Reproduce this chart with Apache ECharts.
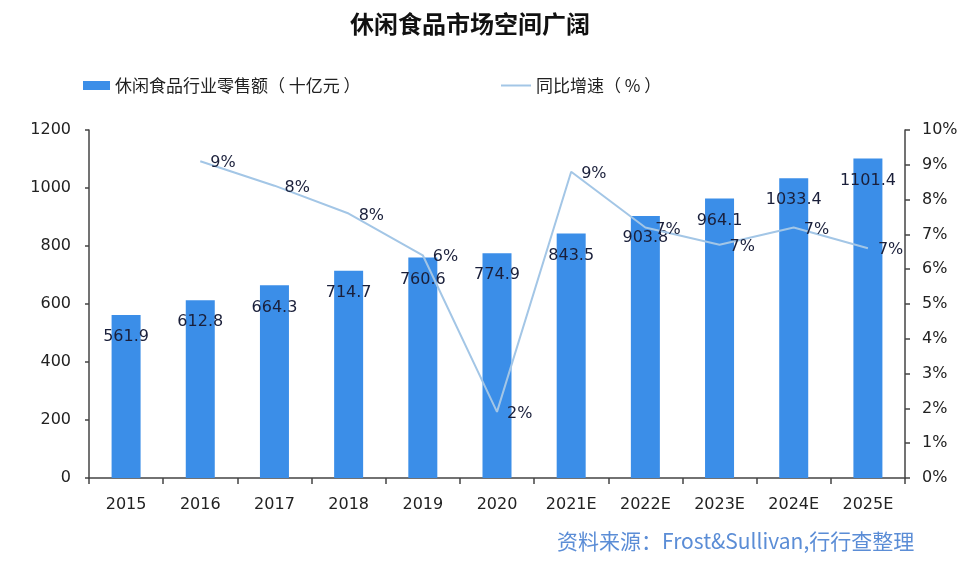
<!DOCTYPE html>
<html>
<head>
<meta charset="utf-8">
<script src="https://cdn.jsdelivr.net/npm/echarts@6/dist/echarts.min.js"></script>
<style>html,body{margin:0;padding:0;background:#fff}#c{width:964px;height:572px}</style>
</head>
<body>
<div id="c"></div>
<script>
const categories = ['2015','2016','2017','2018','2019','2020','2021E','2022E','2023E','2024E','2025E'];
const retailSales = [561.9, 612.8, 664.3, 714.7, 760.6, 774.9, 843.5, 903.8, 964.1, 1033.4, 1101.4];
const growthRate = [null, 9.1, 8.4, 7.6, 6.4, 1.9, 8.8, 7.2, 6.7, 7.2, 6.6];
const leftTicks = [0, 1200, 200];
const rightTicks = [0, 10, 1];
const titleText = '休闲食品市场空间广阔';
const barName = '休闲食品行业零售额（ 十亿元 ）';
const lineName = '同比增速（ % ）';
const sourceText = '资料来源：Frost&Sullivan,行行查整理';

const FF = "'DejaVu Sans', 'Noto Sans CJK SC', sans-serif";
const CJK = "'Noto Sans CJK SC', sans-serif";
const chart = echarts.init(document.getElementById('c'), null, {renderer: 'canvas'});
chart.setOption({
  backgroundColor: '#ffffff',
  animation: false,
  title: {
    text: titleText, left: 350, top: 12, padding: 0,
    textStyle: {fontFamily: CJK, fontWeight: 'bold', fontSize: 24, color: '#111'}
  },
  legend: [
    {data: [{name: barName, icon: 'rect'}], left: 83, top: 77, padding: 0, itemWidth: 27, itemHeight: 9,
     textStyle: {fontFamily: CJK, fontSize: 17, color: '#222'}},
    {data: [{name: lineName, icon: 'rect'}], left: 501, top: 77, padding: 0, itemWidth: 30, itemHeight: 2,
     textStyle: {fontFamily: CJK, fontSize: 17, color: '#222'}}
  ],
  grid: {left: 89, right: 59, top: 130, bottom: 94, containLabel: false},
  xAxis: {
    type: 'category', data: categories, boundaryGap: true,
    axisLine: {lineStyle: {color: '#444', width: 1.5}},
    axisTick: {show: true, length: 6, lineStyle: {color: '#444', width: 1.5}},
    axisLabel: {fontFamily: FF, fontSize: 16, color: '#222', margin: 19}
  },
  yAxis: [
    {type: 'value', min: leftTicks[0], max: leftTicks[1], interval: leftTicks[2],
     splitLine: {show: false},
     axisLine: {show: true, lineStyle: {color: '#444', width: 1.5}},
     axisTick: {show: true, length: 4, lineStyle: {color: '#444', width: 1.5}},
     axisLabel: {fontFamily: FF, fontSize: 16, color: '#222', margin: 18, formatter: v => String(v)}},
    {type: 'value', min: rightTicks[0], max: rightTicks[1], interval: rightTicks[2], position: 'right',
     splitLine: {show: false},
     axisLine: {show: true, lineStyle: {color: '#444', width: 1.5}},
     axisTick: {show: true, length: 5, lineStyle: {color: '#444', width: 1.5}},
     axisLabel: {fontFamily: FF, fontSize: 16, color: '#222', margin: 17, formatter: '{value}%'}}
  ],
  series: [
    {name: barName, type: 'bar', data: retailSales, barWidth: 29,
     itemStyle: {color: '#3b8ee8'},
     label: {show: true, position: 'insideTop', distance: 14, fontFamily: FF, fontSize: 16, color: '#1a1f3a'}},
    {name: lineName, type: 'line', yAxisIndex: 1, data: growthRate, symbol: 'circle', symbolSize: 0.01, showSymbol: true,
     connectNulls: false,
     lineStyle: {color: '#a3c6e6', width: 2}, itemStyle: {color: '#a3c6e6'},
     label: {show: true, position: 'right', distance: 10, offset: [0, 2], fontFamily: FF, fontSize: 16, color: '#1a1f3a',
       formatter: p => Math.round(p.value) + '%'}}
  ],
  graphic: [
    {type: 'text', left: 557, top: 531,
     style: {text: sourceText, fontFamily: CJK, fontSize: 21, fill: '#5b8dd6'}}
  ]
});
</script>
</body>
</html>
